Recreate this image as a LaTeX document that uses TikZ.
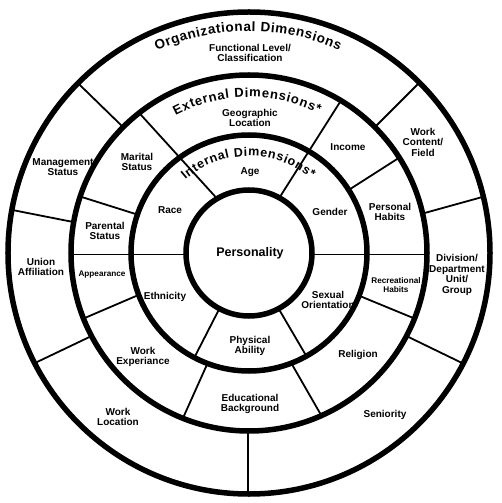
\documentclass[tikz,border=0pt]{standalone}
\usepackage{fontspec}
\setmainfont{Liberation Sans}
\usetikzlibrary{decorations.text}
\begin{document}
\begin{tikzpicture}[x=1pt,y=1pt,
  ring/.style={line width=5.5pt},
  divider/.style={line width=1.8pt},
  lbl/.style={font=\bfseries\fontsize{10}{10.5}\selectfont, align=center, inner sep=0pt},
  smalllbl/.style={font=\bfseries\fontsize{8.2}{9}\selectfont, align=center, inner sep=0pt},
  biglbl/.style={font=\bfseries\fontsize{12.5}{14}\selectfont, inner sep=0pt},
  arctext/.style 2 args={decorate, decoration={text along path, text align={fit to path},
     text={|\bfseries\fontsize{#1}{14}\selectfont|#2}}}]
\fill[white] (-249,-250) rectangle (253,253);
\useasboundingbox (-249,-250) rectangle (253,253);

% dividers
\draw[divider] (120.4:63) -- (128.1:178);
\draw[divider] (61.2:63) -- (58.9:178);
\draw[divider] (-63,-1.5) -- (-178,-1.5);
\draw[divider] (63,-1.5) -- (178,-1.5);
\draw[divider] (-62:63) -- (-60.9:118);
\draw[divider] (-118:63) -- (-117.6:118);
\draw[divider] (32.3:118) -- (32.4:178);
\draw[divider] (-21.2:118) -- (-21.6:178);
\draw[divider] (-69:118) -- (-66:178);
\draw[divider] (-110.6:118) -- (-111.8:178);
\draw[divider] (-159.2:118) -- (-158.4:178);
\draw[divider] (161:118) -- (161.5:178);
\draw[divider] (135:178) -- (135.2:241);
\draw[divider] (45:178) -- (45:241);
\draw[divider] (12.8:178) -- (13.5:241);
\draw[divider] (-27.8:178) -- (-27.3:241);
\draw[divider] (-1,-178) -- (-1,-241);
\draw[divider] (-152.2:178) -- (-152.8:241);
\draw[divider] (170:178) -- (169.7:241);

% rings
\draw[ring] (0,0) circle[radius=63];
\draw[ring] (0,0) circle[radius=118];
\draw[ring] (0,0) circle[radius=178];
\draw[ring] (0,0) circle[radius=241];

% curved titles
\path[arctext={13.5}{Organizational Dimensions}] (114.5:222) arc[start angle=114.5, end angle=66, radius=222];
\path[arctext={13}{External Dimensions*}] (118:156) arc[start angle=118, end angle=63.5, radius=156];
\path[arctext={12.5}{Internal Dimensions*}] (131:97) arc[start angle=131, end angle=50, radius=97];

% labels
\node[biglbl] (pers) at (1,0) {Personality};
\node[lbl] (age) at (1,81) {Age};
\node[lbl] (race) at (-79,43) {Race};
\node[lbl] (gender) at (81,41) {Gender};
\node[lbl] (eth) at (-84,-44) {Ethnicity};
\node[lbl] (phys) at (1,-93) {Physical\\Ability};
\node[lbl] (sex) at (79,-47) {Sexual\\Orientation};

\node[lbl] (geo) at (1,135) {Geographic\\Location};
\node[lbl] (marital) at (-112,91) {Marital\\Status};
\node[lbl] (income) at (99,106) {Income};
\node[lbl] (personal) at (141,41) {Personal\\Habits};
\node[smalllbl] (recr) at (147,-32) {Recreational\\Habits};
\node[lbl] (relig) at (109,-102) {Religion};
\node[lbl] (edu) at (1,-151) {Educational\\Background};
\node[lbl] (workexp) at (-106,-104) {Work\\Experiance};
\node[smalllbl] (appear) at (-147,-22) {Appearance};
\node[lbl] (parental) at (-144,22) {Parental\\Status};

\node[lbl] (func) at (1,200) {Functional Level/\\Classification};
\node[lbl] (mgmt) at (-186,86) {Management\\Status};
\node[lbl] (content) at (174,111) {Work\\Content/\\Field};
\node[lbl] (div) at (208,-22) {Division/\\Department\\Unit/\\Group};
\node[lbl] (senior) at (136,-162) {Seniority};
\node[lbl] (workloc) at (-131,-164) {Work\\Location};
\node[lbl] (union) at (-208,-14) {Union\\Affiliation};
\end{tikzpicture}
\end{document}
